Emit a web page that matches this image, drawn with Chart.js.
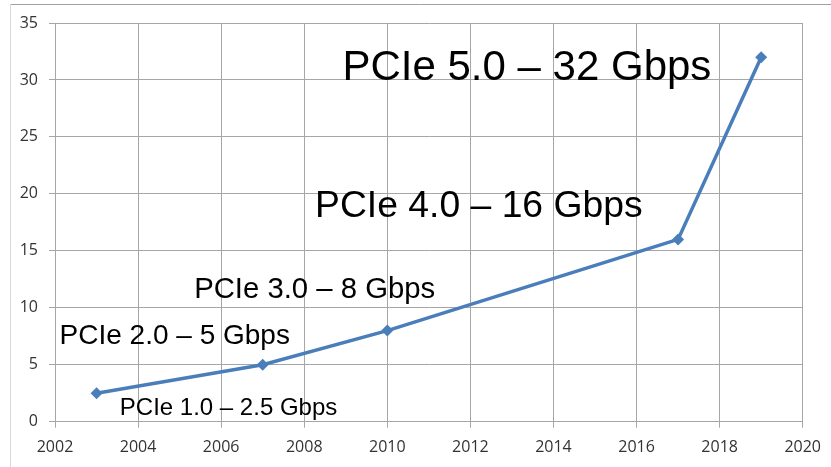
<!DOCTYPE html>
<html>
<head>
<meta charset="utf-8">
<script src="https://cdn.jsdelivr.net/npm/chart.js@4/dist/chart.umd.min.js"></script>
<style>
    body { margin: 0; background: #ffffff; }
    #chart { display: block; }
</style>
</head>
<body>
<canvas id="chart" width="831" height="467"></canvas>
<script>
const years = [2003, 2007, 2010, 2017, 2019];
const speeds = [2.5, 5, 8, 16, 32];
const generations = ["1.0", "2.0", "3.0", "4.0", "5.0"];

const xTicks = { min: 2002, max: 2020, step: 2 };
const yTicks = { min: 0, max: 35, step: 5 };

// where each label sits (data units, left edge / baseline) and how big it is
const notePlacement = [
    { x: 2003.56, y: 0.59, size: 24 },
    { x: 2002.11, y: 6.8, size: 28 },
    { x: 2005.35, y: 10.84, size: 29.3 },
    { x: 2008.26, y: 18.0, size: 37.3 },
    { x: 2008.92, y: 30.0, size: 42 }
];

const gridColor = '#a6a6a6';
const lineColor = '#4a7ebb';

const framePlugin = {
    id: 'frame',
    beforeDraw(chart) {
        const ctx = chart.ctx;
        ctx.save();
        ctx.fillStyle = '#ffffff';
        ctx.fillRect(0, 0, chart.width, chart.height);
        ctx.lineWidth = 1;
        ctx.strokeStyle = '#a0a0a0';
        ctx.beginPath();
        ctx.moveTo(10, 4.5);
        ctx.lineTo(chart.width, 4.5);
        ctx.stroke();
        ctx.strokeStyle = '#d9d9d9';
        ctx.beginPath();
        ctx.moveTo(10.5, 4);
        ctx.lineTo(10.5, chart.height);
        ctx.stroke();
        ctx.restore();
    }
};

const notesPlugin = {
    id: 'notes',
    afterDatasetsDraw(chart) {
        const ctx = chart.ctx;
        const xs = chart.scales.x;
        const ys = chart.scales.y;
        ctx.save();
        ctx.fillStyle = '#000000';
        ctx.textAlign = 'left';
        ctx.textBaseline = 'alphabetic';
        generations.forEach((gen, i) => {
            const p = notePlacement[i];
            ctx.font = p.size + 'px "Liberation Sans", Arial, sans-serif';
            const text = 'PCIe ' + gen + ' \u2013 ' + speeds[i] + ' Gbps';
            ctx.fillText(text, xs.getPixelForValue(p.x), ys.getPixelForValue(p.y));
        });
        ctx.restore();
    }
};

const tickFont = { family: '"Open Sans", sans-serif', size: 16 };

new Chart(document.getElementById('chart'), {
    type: 'scatter',
    data: {
        datasets: [
            {
                label: 'PCIe',
                data: years.map((y, i) => ({ x: y, y: speeds[i] })),
                showLine: true,
                borderColor: lineColor,
                backgroundColor: lineColor,
                borderWidth: 3.5,
                pointStyle: 'rectRot',
                pointRadius: 6,
                pointHoverRadius: 6,
                pointBorderWidth: 0,
                tension: 0
            }
        ]
    },
    options: {
        responsive: false,
        animation: false,
        layout: { padding: { left: 10, right: 27, top: 23, bottom: 0 } },
        plugins: {
            legend: { display: false },
            tooltip: { enabled: false }
        },
        scales: {
            x: {
                type: 'linear',
                min: xTicks.min,
                max: xTicks.max,
                afterFit: scale => { scale.height = 45.3; },
                ticks: {
                    stepSize: xTicks.step,
                    padding: 10,
                    color: '#333333',
                    font: tickFont,
                    maxRotation: 0,
                    callback: v => String(v)
                },
                grid: { color: gridColor, tickLength: 6, tickColor: gridColor },
                border: { color: gridColor }
            },
            y: {
                min: yTicks.min,
                max: yTicks.max,
                afterFit: scale => { scale.width = 45; },
                ticks: {
                    stepSize: yTicks.step,
                    padding: 11,
                    color: '#333333',
                    font: tickFont
                },
                grid: { color: gridColor, tickLength: 6, tickColor: gridColor },
                border: { color: gridColor }
            }
        }
    },
    plugins: [framePlugin, notesPlugin]
});
</script>
</body>
</html>
